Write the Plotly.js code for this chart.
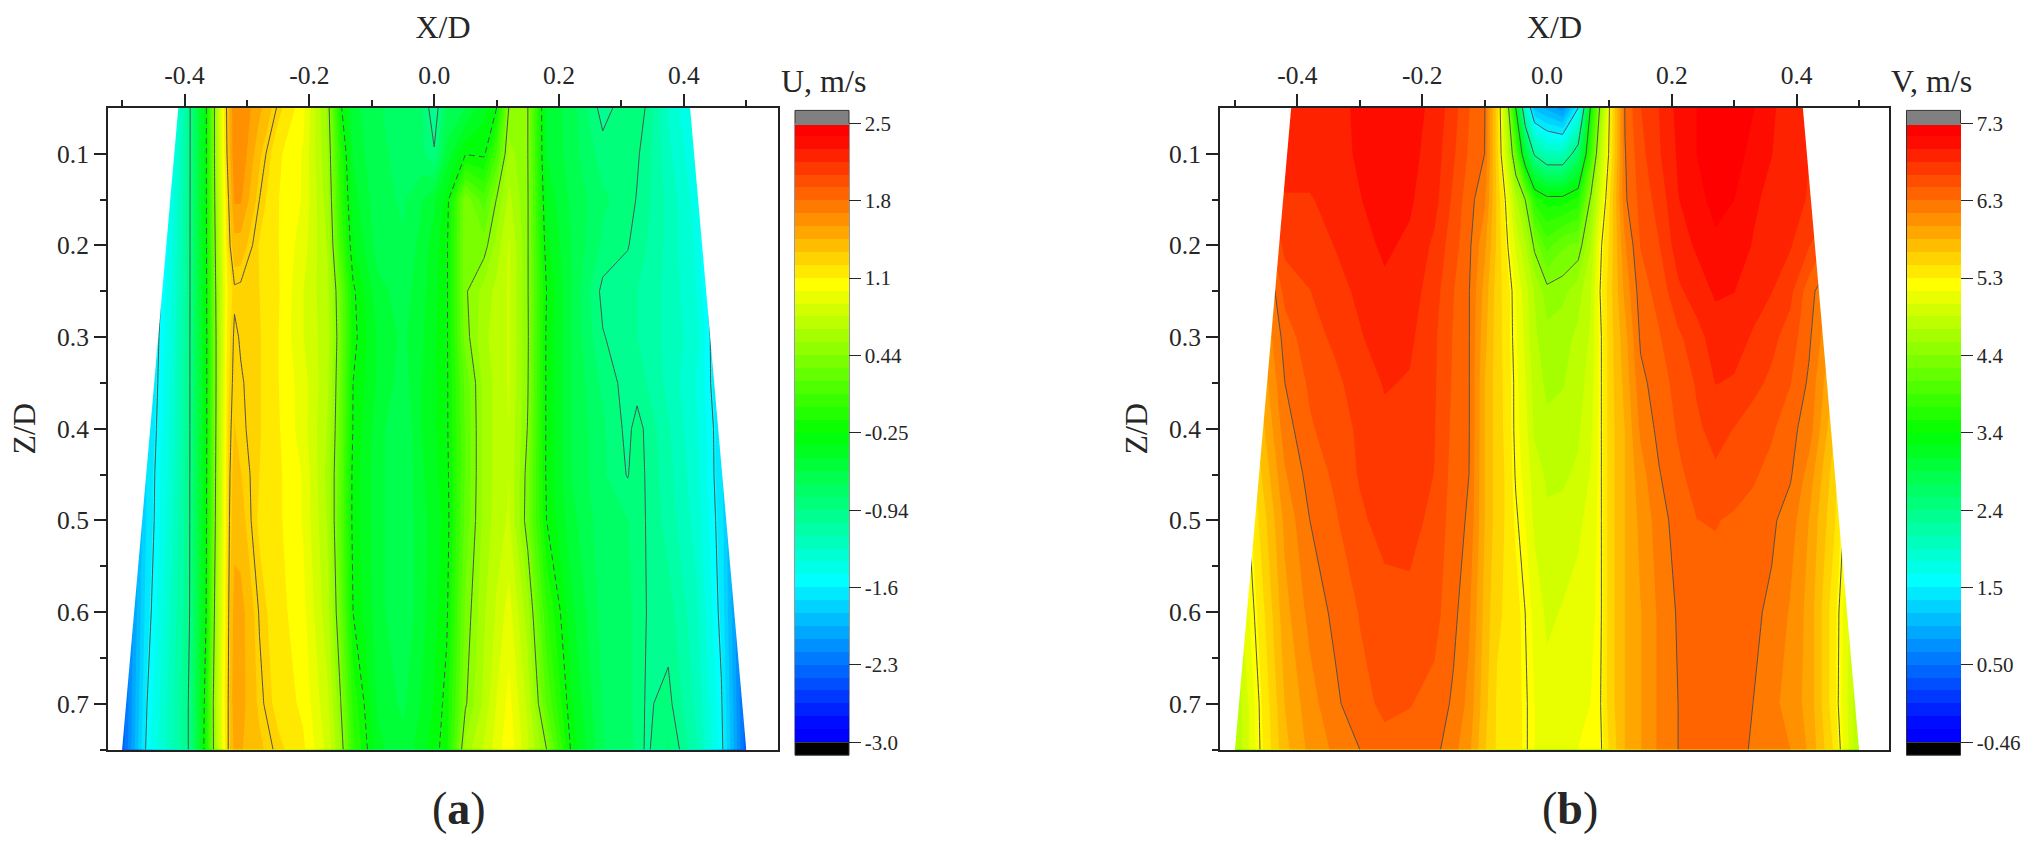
<!DOCTYPE html>
<html><head><meta charset="utf-8">
<script src="https://cdn.plot.ly/plotly-3.0.1.min.js"></script>
<style>html,body{margin:0;padding:0;background:#fff}</style></head>
<body><div id="chart" style="width:2040px;height:845px"></div>
<script>
const zRows = [.05,.1,.15,.2,.25,.3,.35,.4,.45,.5,.6,.7,.75];

const uX = [-.5,-.46,-.42,-.39,-.365,-.35,-.33,-.32,-.31,-.28,-.25,-.21,-.17,-.15,-.13,-.09,-.05,-.02,0,.02,.05,.08,.10,.12,.15,.18,.22,.27,.31,.325,.34,.375,.42,.46,.5];
const uColumns = [
[-2.4,-2.4,-2.4,-2.4,-2.4,-2.4,-2.4,-2.4,-2.4,-2.4,-2.4,-2.4,-2.4],
[-2.4,-2.3,-2.1,-2.0,-1.85,-1.8,-1.78,-1.75,-1.72,-1.72,-1.67,-1.6,-1.55],
[-1.55,-1.5,-1.45,-1.42,-1.4,-1.38,-1.36,-1.35,-1.33,-1.3,-1.25,-1.2,-1.2],
[-.92,-.92,-.92,-.92,-.92,-.92,-.92,-.92,-.92,-.92,-.92,-.9,-.9],
[-.25,-.25,-.25,-.26,-.27,-.28,-.28,-.28,-.27,-.26,-.24,-.15,-.12],
[.55,.55,.52,.48,.44,.42,.42,.43,.45,.47,.55,.65,.62],
[1.42,1.38,1.28,1.25,1.15,1.2,1.22,1.25,1.26,1.27,1.28,1.3,1.3],
[1.68,1.68,1.6,1.42,1.28,1.32,1.34,1.36,1.4,1.42,1.52,1.55,1.5],
[1.68,1.68,1.6,1.42,1.27,1.29,1.31,1.32,1.36,1.4,1.52,1.52,1.48],
[1.5,1.38,1.3,1.23,1.24,1.25,1.25,1.25,1.24,1.22,1.29,1.33,1.38],
[1.28,1.15,1.13,1.13,1.14,1.13,1.13,1.14,1.15,1.15,1.17,1.2,1.27],
[1.05,1.0,1.0,.95,.9,.9,.95,.95,1.0,1.0,1.05,1.1,1.15],
[.5,.55,.6,.65,.68,.7,.68,.65,.62,.65,.7,.8,.85],
[-.22,-.05,0,.1,.3,.33,.3,.28,.25,.22,.3,.45,.55],
[-.55,-.5,-.42,-.35,-.22,-.2,-.25,-.26,-.3,-.3,-.25,-.05,.02],
[-.7,-.7,-.68,-.65,-.55,-.5,-.5,-.55,-.55,-.55,-.55,-.5,-.45],
[-.75,-.72,-.72,-.7,-.65,-.62,-.65,-.7,-.7,-.7,-.7,-.62,-.55],
[-.8,-.8,-.6,-.55,-.52,-.5,-.48,-.48,-.5,-.52,-.52,-.47,-.42],
[-1.05,-.92,-.5,-.42,-.4,-.38,-.38,-.38,-.4,-.42,-.4,-.35,-.3],
[-.7,-.55,-.32,-.28,-.28,-.28,-.28,-.28,-.3,-.32,-.28,-.2,-.18],
[-.6,-.26,.4,.42,.42,.38,.25,.22,.22,.25,.35,.42,.6],
[-.4,-.28,.15,.38,.6,.65,.6,.6,.6,.6,.65,.7,.8],
[-.25,.1,.45,.6,.7,.7,.7,.7,.7,.72,.8,.9,.95],
[.46,.6,.7,.8,.8,.8,.8,.78,.78,.8,.95,1.05,1.1],
[.44,.44,.45,.45,.45,.46,.45,.43,.38,.36,.6,.75,.8],
[-.5,-.48,-.4,-.33,-.25,-.28,-.28,-.28,-.28,-.25,0,.2,.44],
[-.65,-.65,-.62,-.6,-.6,-.6,-.6,-.6,-.6,-.55,-.45,-.35,-.28],
[-1.0,-.88,-.8,-.85,-.98,-.93,-.85,-.8,-.8,-.78,-.75,-.72,-.7],
[-.85,-.85,-.88,-.93,-1.02,-1.02,-1.0,-.98,-.95,-.82,-.8,-.8,-.78],
[-.88,-.92,-.95,-1.0,-1.05,-1.05,-1.0,-.88,-.85,-.85,-.85,-.85,-.85],
[-.95,-1.0,-1.02,-1.05,-1.1,-1.1,-1.05,-.97,-.96,-.95,-.94,-.96,-.97],
[-1.3,-1.25,-1.2,-1.2,-1.2,-1.2,-1.2,-1.15,-1.12,-1.1,-1.0,-.9,-.8],
[-1.55,-1.5,-1.45,-1.42,-1.4,-1.35,-1.4,-1.38,-1.36,-1.33,-1.25,-1.2,-1.15],
[-2.5,-2.4,-2.1,-2.0,-1.85,-1.8,-1.75,-1.7,-1.7,-1.68,-1.65,-1.58,-1.55],
[-2.4,-2.4,-2.4,-2.4,-2.4,-2.4,-2.4,-2.4,-2.4,-2.4,-2.4,-2.4,-2.4]
];

const vX = [-.5,-.46,-.42,-.38,-.34,-.30,-.26,-.22,-.18,-.15,-.125,-.10,-.08,-.065,-.05,-.035,-.02,0,.025,.05,.07,.085,.10,.125,.15,.18,.21,.24,.27,.30,.33,.36,.39,.42,.46,.5];
const vColumns = [
[6,6,6,5.8,5.6,5.4,5.2,5,5,5,4.9,4.7,4.7],
[6.8,6.7,6.6,6.3,6,5.95,5.85,5.75,5.65,5.55,5.42,5.32,5.3],
[6.9,6.9,6.8,6.7,6.55,6.4,6.33,6.25,6.15,6.05,5.95,5.85,5.8],
[6.92,6.9,6.8,6.72,6.65,6.6,6.52,6.47,6.4,6.33,6.22,6.1,6.05],
[6.94,6.92,6.88,6.82,6.75,6.68,6.62,6.58,6.52,6.47,6.37,6.29,6.2],
[7.0,7.0,6.97,6.93,6.85,6.8,6.72,6.68,6.67,6.62,6.5,6.45,6.33],
[7.08,7.08,7.05,7.0,6.95,6.9,6.83,6.77,6.74,6.72,6.58,6.52,6.45],
[7.05,7.03,7.0,6.95,6.9,6.85,6.8,6.76,6.73,6.72,6.6,6.5,6.42],
[6.93,6.9,6.87,6.78,6.72,6.68,6.67,6.66,6.65,6.6,6.55,6.44,6.38],
[6.72,6.68,6.62,6.56,6.5,6.48,6.47,6.45,6.43,6.42,6.38,6.3,6.22],
[6.5,6.47,6.4,6.37,6.34,6.34,6.34,6.34,6.33,6.3,6.2,6.12,6.05],
[6.35,6.33,6.2,6.05,5.95,5.9,5.85,5.85,5.85,5.85,5.8,5.75,5.7],
[5.6,5.6,5.65,5.65,5.6,5.6,5.6,5.6,5.6,5.6,5.55,5.5,5.5],
[4.7,4.9,5.25,5.35,5.45,5.45,5.47,5.48,5.5,5.5,5.5,5.5,5.5],
[3.4,4.1,4.75,5,5.2,5.22,5.25,5.25,5.28,5.33,5.42,5.42,5.42],
[2,3.05,4.4,4.75,4.95,5,5.05,5.1,5.15,5.2,5.3,5.33,5.33],
[1.1,2.35,3.7,4.35,4.7,4.75,4.8,4.85,4.95,5,5.15,5.2,5.2],
[.95,2.05,3.5,4,4.47,4.6,4.68,4.75,4.85,4.9,5,5.1,5.1],
[.75,2.05,3.5,4.2,4.5,4.65,4.7,4.78,4.85,4.92,5.05,5.15,5.15],
[1.5,2.63,3.65,4.28,4.65,4.75,4.8,4.85,4.9,5,5.1,5.15,5.2],
[3.45,3.85,4.45,4.7,4.85,4.9,4.95,5,5.05,5.1,5.15,5.2,5.25],
[4.45,4.75,5,5.25,5.3,5.25,5.25,5.25,5.25,5.25,5.25,5.28,5.25],
[5.3,5.35,5.5,5.55,5.6,5.6,5.6,5.6,5.6,5.6,5.6,5.6,5.55],
[6.35,6.32,6.3,6.15,6.05,5.95,5.9,5.85,5.85,5.85,5.85,5.85,5.85],
[6.65,6.6,6.55,6.5,6.42,6.36,6.28,6.2,6.1,6.05,6,6,6],
[6.82,6.8,6.72,6.65,6.55,6.48,6.42,6.38,6.32,6.25,6.2,6.2,6.2],
[7.03,7,6.97,6.9,6.78,6.62,6.55,6.51,6.46,6.41,6.35,6.33,6.33],
[7.14,7.14,7.08,7,6.9,6.75,6.67,6.63,6.55,6.49,6.42,6.38,6.38],
[7.25,7.25,7.2,7.1,7,6.9,6.82,6.7,6.63,6.5,6.43,6.4,6.38],
[7.25,7.22,7.14,7.05,6.98,6.88,6.8,6.65,6.57,6.47,6.42,6.38,6.36],
[7.15,7.08,7,6.97,6.88,6.8,6.7,6.58,6.52,6.42,6.36,6.33,6.32],
[7,6.98,6.94,6.88,6.82,6.7,6.62,6.52,6.43,6.36,6.3,6.22,6.2],
[6.9,6.9,6.88,6.83,6.7,6.58,6.5,6.38,6.35,6.25,6.15,6.1,6.17],
[6.85,6.82,6.8,6.66,6.4,6.36,6.3,6.25,6.1,6,5.95,5.95,5.98],
[6.9,6.9,6.7,6.4,6.1,5.95,5.8,5.7,5.6,5.55,5.42,5.42,5.5],
[6,6,6,5.8,5.6,5.4,5.2,5,4.9,4.9,4.8,4.7,4.7]
];

const uTickVals = [-3,-2.3125,-1.625,-.9375,-.25,.4375,1.125,1.8125,2.5];
const uTickText = ['-3.0','-2.3','-1.6','-0.94','-0.25','0.44','1.1','1.8','2.5'];
const vTickVals = [-.46,.51,1.48,2.45,3.42,4.39,5.36,6.33,7.3];
const vTickText = ['-0.46','0.50','1.5','2.4','3.4','4.4','5.3','6.3','7.3'];
const uSolidLevels = [-1.6,-.94,.44,1.3];
const uDashedLevels = [-.25];
const vSolidLevels = [1.5,2.4,3.4,4.4,5.3,6.33];
const measuredZ = [.05,.75];
const measuredHalfWidth = [.41,.5];
const xTicks = [-.4,-.2,0,.2,.4];
const xTickText = ['-0.4','-0.2','0.0','0.2','0.4'];
const zTicks = [.1,.2,.3,.4,.5,.6,.7];
const zTickText = ['0.1','0.2','0.3','0.4','0.5','0.6','0.7'];

const W = 2040, H = 845, FONT = '"Liberation Serif", serif', INK = '#262626';
const px = v => v / W, py = v => 1 - v / H;
const toRows = cols => zRows.map((_, i) => cols.map(c => c[i]));

const BANDS = 48;
function scale() {
  const n = BANDS + 1, f = t => (1 + (BANDS - 1) * t) / n;
  return [[0,'#000000'],[.5/n,'#000000'],[.5/n+1e-6,'#0000ff'],[f(0),'#0000ff'],[f(.25),'#00ffff'],[f(.5),'#00ff00'],[f(.75),'#ffff00'],[f(1),'#ff0000'],[48.5/n,'#ff0000'],[48.5/n+1e-6,'#808080'],[1,'#808080']];
}

function panel(o) {
  const z = toRows(o.cols), tr = [];
  const size = (o.max - o.min) / BANDS;
  tr.push({type:'contour', x:o.x, y:zRows, z, xaxis:o.xa, yaxis:o.ya, autocontour:false, hoverinfo:'skip',
    contours:{coloring:'fill', start:o.min, end:o.max, size, showlines:false},
    line:{width:0, smoothing:0}, colorscale:scale(), zauto:false, zmin:o.min, zmax:o.max,
    colorbar:{x:px(o.barLeft), xref:'paper', xanchor:'left', xpad:0, ypad:0,
      y:py(o.barBottom), yref:'paper', yanchor:'bottom',
      lenmode:'pixels', len:o.barBottom - o.barTop, thicknessmode:'pixels', thickness:o.barW,
      outlinewidth:0, borderwidth:0, tickmode:'array', tickvals:o.tickVals, ticktext:o.tickText,
      ticks:'outside', ticklen:12, tickwidth:1, tickcolor:INK,
      tickfont:{family:FONT, size:21, color:INK}}});
  const addLines = (levels, dash) => levels.forEach(l => tr.push({type:'contour', x:o.x, y:zRows, z, xaxis:o.xa, yaxis:o.ya,
    autocontour:false, hoverinfo:'skip', showscale:false, colorscale:[[0,'#505050'],[1,'#505050']],
    contours:{coloring:'none', start:l, end:l, size:1, showlines:true},
    line:{color:'#505050', width:1, dash, smoothing:0}}));
  addLines(o.solid, 'solid');
  addLines(o.dashed || [], '6px,4px');
  [-1, 1].forEach(s => tr.push({type:'scatter', mode:'lines', xaxis:o.xa, yaxis:o.ya, hoverinfo:'skip', showlegend:false,
    x:[s*measuredHalfWidth[0], s*measuredHalfWidth[1], o.range[s<0?0:1], o.range[s<0?0:1], s*measuredHalfWidth[0]],
    y:[measuredZ[0], measuredZ[1], measuredZ[1], measuredZ[0], measuredZ[0]],
    fill:'toself', fillcolor:'#ffffff', line:{width:0, color:'#ffffff'}}));
  return tr;
}

const common = {barTop:123.3, barBottom:742.3, barW:54};
const pa = Object.assign({x:uX, cols:uColumns, xa:'x', ya:'y', min:-3, max:2.5, barLeft:795, range:[-.5226,.5508],
  tickVals:uTickVals, tickText:uTickText, solid:uSolidLevels, dashed:uDashedLevels}, common);
const pb = Object.assign({x:vX, cols:vColumns, xa:'x2', ya:'y2', min:-.46, max:7.3, barLeft:1906.5, range:[-.524,.548],
  tickVals:vTickVals, tickText:vTickText, solid:vSolidLevels}, common);

function xAxis(dom, range, anchor) {
  return {domain:[px(dom[0]),px(dom[1])], range, anchor, side:'top', showgrid:false, zeroline:false,
    showline:true, mirror:true, linecolor:'#222', linewidth:2,
    tickmode:'array', tickvals:xTicks, ticktext:xTickText, ticks:'outside', ticklen:12, tickwidth:2, tickcolor:'#222',
    minor:{tickmode:'array', tickvals:[-.5,-.3,-.1,.1,.3,.5], ticks:'outside', ticklen:6, tickwidth:2, tickcolor:'#222', showgrid:false},
    tickfont:{family:FONT, size:25.5, color:INK},
    title:{text:'X/D', font:{family:FONT, size:32, color:INK}, standoff:13}};
}
function yAxis(anchor) {
  return {domain:[py(749.5),py(108)], range:[.75,.05], anchor, showgrid:false, zeroline:false,
    showline:true, mirror:true, linecolor:'#222', linewidth:2,
    tickmode:'array', tickvals:zTicks, ticktext:zTickText, ticks:'outside', ticklen:12, tickwidth:2, tickcolor:'#222',
    minor:{tickmode:'array', tickvals:[.15,.25,.35,.45,.55,.65,.75], ticks:'outside', ticklen:6, tickwidth:2, tickcolor:'#222', showgrid:false},
    tickfont:{family:FONT, size:25.5, color:INK},
    title:{text:'Z/D', font:{family:FONT, size:32, color:INK}, standoff:12}};
}
function barShapes(o) {
  const b = (o.barBottom - o.barTop) / BANDS, L = px(o.barLeft), R = px(o.barLeft + o.barW);
  const rect = (t, bot, fill, line) => ({type:'rect', xref:'paper', yref:'paper', x0:L, x1:R, y0:py(bot), y1:py(t), fillcolor:fill, line});
  return [
    rect(o.barBottom, o.barBottom + b, '#000000', {width:0}),
    rect(o.barTop - b, o.barTop, '#808080', {width:0}),
    rect(o.barTop - b, o.barBottom + b, 'rgba(0,0,0,0)', {color:'#333', width:1})
  ];
}
const ann = (text, x, y, size) => ({text, xref:'paper', yref:'paper', x:px(x), y:py(y), showarrow:false, xanchor:'center', yanchor:'middle', font:{family:FONT, size, color:INK}});

Plotly.newPlot('chart', panel(pa).concat(panel(pb)), {
  width:W, height:H, paper_bgcolor:'#fff', plot_bgcolor:'#fff', showlegend:false,
  margin:{l:0,r:0,t:0,b:0,autoexpand:false},
  xaxis:xAxis([108,778], pa.range, 'y'), yaxis:yAxis('x'),
  xaxis2:xAxis([1220,1889], pb.range, 'y2'), yaxis2:yAxis('x2'),
  shapes:barShapes(pa).concat(barShapes(pb)),
  annotations:[ann('U, m/s', 823, 81, 32), ann('V, m/s', 1931, 81, 32),
    ann('(<b>a</b>)', 459, 808, 46), ann('(<b>b</b>)', 1570, 808, 46)]
}, {staticPlot:true, displayModeBar:false});
</script></body></html>
